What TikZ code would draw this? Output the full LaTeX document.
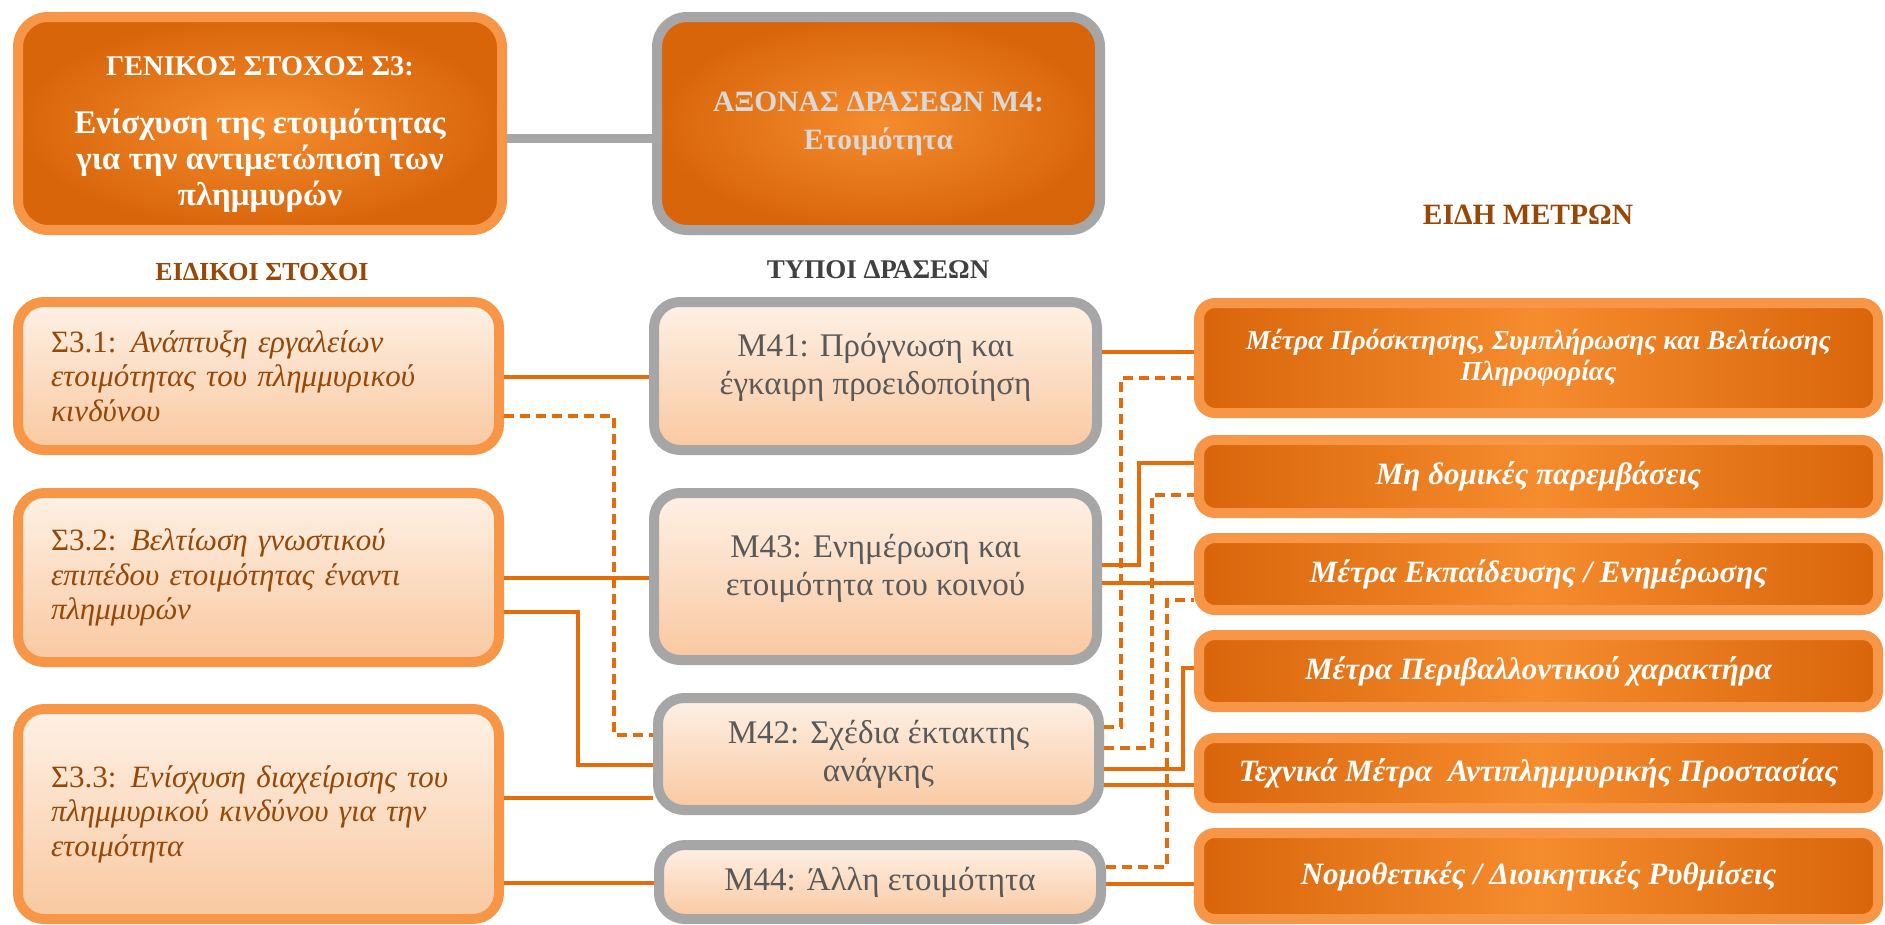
\documentclass[tikz,border=0pt]{standalone}
\usepackage{fontspec}
\setmainfont{Liberation Serif}
\definecolor{lorange}{HTML}{F79646}
\definecolor{corange}{HTML}{E46C0A}
\definecolor{boxgray}{HTML}{A6A6A6}
\definecolor{darkor}{HTML}{D9650B}
\definecolor{midor}{HTML}{F58C2E}
\definecolor{peachtop}{HTML}{FEF1E6}
\definecolor{peachbot}{HTML}{F9C8A0}
\definecolor{brownt}{HTML}{984806}
\definecolor{grayt}{HTML}{595959}
\definecolor{headgray}{HTML}{404040}
\definecolor{lgrayt}{HTML}{D9D9D9}
\tikzset{
  bigbox/.style={line width=10pt, rounded corners=30pt, shading=radial,
    inner color=midor, outer color=darkor, align=center, inner sep=0pt},
  goalbox/.style={bigbox, draw=lorange, text=white,
    font=\bfseries\fontsize{33}{36}\selectfont},
  axisbox/.style={bigbox, draw=boxgray, text=lgrayt,
    font=\bfseries\fontsize{29.5}{38}\selectfont},
  sbox/.style={draw=lorange, line width=10pt, rounded corners=26pt,
    top color=peachtop, bottom color=peachbot, text=brownt, align=left,
    text width=415pt, inner sep=0pt, font=\fontsize{31}{34.5}\selectfont},
  mbox/.style={draw=boxgray, line width=10pt, rounded corners=26pt,
    top color=peachtop, bottom color=peachbot, text=grayt, align=center,
    inner sep=0pt, font=\fontsize{33}{38}\selectfont},
  rbox/.style={draw=lorange, line width=10pt, rounded corners=16pt,
    left color=darkor, right color=darkor, middle color=midor, text=white,
    align=center, inner sep=0pt, minimum width=679pt,
    font=\bfseries\itshape\fontsize{31}{31}\selectfont},
  head/.style={font=\bfseries\fontsize{26}{28}\selectfont},
  conn/.style={draw=corange, line width=4pt},
  dconn/.style={conn, dash pattern=on 10pt off 6pt},
  gconn/.style={draw=boxgray, line width=9pt}
}
\begin{document}
\begin{tikzpicture}[x=1pt,y=-1pt]
\useasboundingbox[fill=white] (0,0) rectangle (1885,924);

% top boxes
\node[goalbox, minimum width=484pt, minimum height=213pt] (gen) at (260,123.5)
  {\fontsize{28.5}{36}\selectfont\rule{0pt}{42pt}ΓΕΝΙΚΟΣ ΣΤΟΧΟΣ Σ3:\\[22pt]Ενίσχυση της ετοιμότητας\\για την αντιμετώπιση των\\πλημμυρών};
\node[axisbox, minimum width=443pt, minimum height=213pt] (m4) at (878.5,123.5)
  {ΑΞΟΝΑΣ ΔΡΑΣΕΩΝ Μ4:\\Ετοιμότητα};
\draw[gconn] (gen.east |- 0,138) -- (m4.west |- 0,138);

% headings
\node[head, text=brownt] (h1) at (262,272) {ΕΙΔΙΚΟΙ ΣΤΟΧΟΙ};
\node[head, text=headgray, font=\bfseries\fontsize{27}{28}\selectfont] (h2) at (878,270) {ΤΥΠΟΙ ΔΡΑΣΕΩΝ};
\node[head, text=brownt, font=\bfseries\fontsize{29.5}{30}\selectfont] (h3) at (1528,215) {ΕΙΔΗ ΜΕΤΡΩΝ};

% specific goals
\node[sbox, minimum width=481pt, minimum height=148pt] (s1) at (258.5,376)
  {Σ3.1:\hspace{-1pt} \textit{Ανάπτυξη εργαλείων}\\\textit{ετοιμότητας του πλημμυρικού}\\\textit{κινδύνου}};
\node[sbox, minimum width=481pt, minimum height=169pt] (s2) at (258.5,577.5)
  {Σ3.2:\hspace{-1pt} \textit{Βελτίωση γνωστικού}\\\textit{επιπέδου ετοιμότητας έναντι}\\\textit{πλημμυρών}};
\node[sbox, minimum width=481pt, minimum height=210pt] (s3) at (258.5,814)
  {Σ3.3:\hspace{-1pt} \textit{Ενίσχυση διαχείρισης του}\\\textit{πλημμυρικού κινδύνου για την}\\\textit{ετοιμότητα}};

% action types
\node[mbox, minimum width=443pt, minimum height=148pt] (m41) at (875.5,376)
  {Μ41: Πρόγνωση και\\έγκαιρη προειδοποίηση\\[-14pt]\mbox{}};
\node[mbox, minimum width=443pt, minimum height=167pt] (m43) at (875.5,576.5)
  {Μ43: Ενημέρωση και\\ετοιμότητα του κοινού\\[-14pt]\mbox{}};
\node[mbox, minimum width=441pt, minimum height=112pt] (m42) at (878.5,754)
  {Μ42: Σχέδια έκτακτης\\ανάγκης};
\node[mbox, minimum width=442pt, minimum height=74pt] (m44) at (880,882)
  {Μ44: Άλλη ετοιμότητα};

% measure types
\node[rbox, minimum height=110pt, font=\bfseries\itshape\fontsize{27.5}{31}\selectfont] (r1) at (1538.5,358)
  {Μέτρα Πρόσκτησης, Συμπλήρωσης και Βελτίωσης\\Πληροφορίας};
\node[rbox, minimum height=73pt] (r2) at (1538.5,476.5) {Μη δομικές παρεμβάσεις};
\node[rbox, minimum height=72pt] (r3) at (1538.5,574) {Μέτρα Εκπαίδευσης / Ενημέρωσης};
\node[rbox, minimum height=72pt] (r4) at (1538.5,671) {Μέτρα Περιβαλλοντικού χαρακτήρα};
\node[rbox, minimum height=70pt] (r5) at (1538.5,773) {Τεχνικά Μέτρα\ \ Αντιπλημμυρικής Προστασίας};
\node[rbox, minimum height=86pt] (r6) at (1538.5,876) {Νομοθετικές / Διοικητικές Ρυθμίσεις};

% connectors: goals -> action types
\draw[conn] (s1.east |- 0,377) -- (m41.west |- 0,377);
\draw[dconn] (s1.east |- 0,416) -- ++(110,0) |- (m42.west |- 0,735);
\draw[conn] (s2.east |- 0,578) -- (m43.west |- 0,578);
\draw[conn] (s2.east |- 0,612) -- ++(74,0) |- (m42.west |- 0,765);
\draw[conn] (s3.east |- 0,798) -- (m42.west |- 0,798);
\draw[conn] (s3.east |- 0,883) -- (m44.west |- 0,883);

% connectors: action types -> measures
\draw[conn] (m41.east |- 0,352) -- (r1.west |- 0,352);
\draw[dconn] (m42.east |- 0,727) -- ++(17,0) |- (r1.west |- 0,378);
\draw[conn] (m43.east |- 0,565) -- ++(37,0) |- (r2.west |- 0,463);
\draw[dconn] (m42.east |- 0,748) -- ++(48,0) |- (r2.west |- 0,495);
\draw[conn] (m43.east |- 0,583) -- (r3.west |- 0,583);
\draw[dconn] (m44.east |- 0,867) -- ++(61,0) |- (r3.west |- 0,600);
\draw[conn] (m42.east |- 0,769) -- ++(79,0) |- (r4.west |- 0,668);
\draw[conn] (m42.east |- 0,785) -- (r5.west |- 0,785);
\draw[conn] (m44.east |- 0,884) -- (r6.west |- 0,884);
\end{tikzpicture}
\end{document}
